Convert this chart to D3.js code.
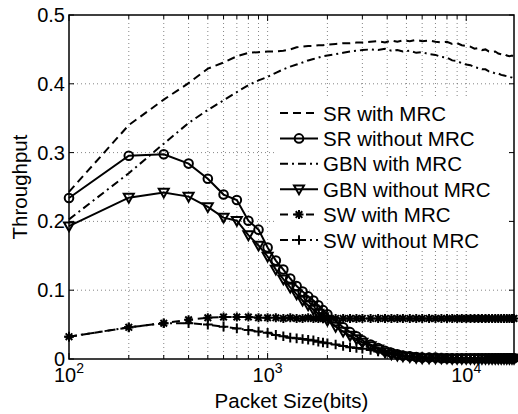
<!DOCTYPE html>
<meta charset="utf-8">
<style>
body { margin: 0; background: #fff; }
text { font-family: "Liberation Sans", Arial, sans-serif; fill: #000; }
.grid line { stroke: #666; stroke-width: 0.8px; stroke-dasharray: 1,3; }
.series { fill: none; stroke: #000; stroke-width: 2px; }
.marker { fill: none; stroke: #000; stroke-width: 2px; }
</style>
<svg width="518" height="414"></svg>
<script src="https://d3js.org/d3.v7.min.js"></script>
<script>

// DATA (packet size in bits, throughput)
var packetSize = [100, 200, 300, 400, 500, 600, 700, 800, 900, 1000,
  1100, 1200, 1300, 1400, 1500, 1600, 1700, 1800, 1900, 2000,
  2200, 2400, 2600, 2800, 3000, 3300, 3600, 3900, 4200, 4500, 4800,
  5200, 5600, 6000, 6500, 7000, 7500, 8000, 8500, 9000, 9500, 10000,
  10500, 11000, 11500, 12000, 12500, 13000, 13500, 14000, 14500, 15000,
  15500, 16000, 16500, 17000, 17400];

var srMrc = [0.243, 0.340, 0.377, 0.401, 0.422, 0.431, 0.440, 0.445, 0.446, 0.447,
  0.447, 0.448, 0.450, 0.453, 0.454, 0.455, 0.455, 0.456, 0.456, 0.457,
  0.458, 0.459, 0.459, 0.460, 0.460, 0.461, 0.462, 0.460, 0.463, 0.461, 0.463,
  0.462, 0.464, 0.462, 0.463, 0.461, 0.460, 0.461, 0.458, 0.459, 0.456, 0.455,
  0.454, 0.451, 0.452, 0.449, 0.450, 0.447, 0.446, 0.447, 0.444, 0.443,
  0.444, 0.441, 0.440, 0.441, 0.438];

var srNoMrc = [0.234, 0.2955, 0.2975, 0.284, 0.262, 0.239, 0.231, 0.201, 0.188, 0.162,
  0.143, 0.130, 0.117, 0.106, 0.098, 0.091, 0.085, 0.078, 0.071, 0.065,
  0.055, 0.046, 0.039, 0.033, 0.027, 0.021, 0.016, 0.012, 0.009, 0.007, 0.005,
  0.004, 0.003, 0.002, 0.002, 0.002, 0.001, 0.001, 0.001, 0.001, 0.001, 0.001,
  0.001, 0.001, 0.001, 0.001, 0.001, 0.001, 0.001, 0.001, 0.001, 0.001,
  0.001, 0.001, 0.001, 0.001, 0.001];

var gbnMrc = [0.203, 0.270, 0.313, 0.343, 0.362, 0.376, 0.388, 0.398, 0.405, 0.410,
  0.416, 0.421, 0.425, 0.428, 0.431, 0.434, 0.436, 0.438, 0.440, 0.441,
  0.443, 0.445, 0.447, 0.448, 0.449, 0.450, 0.449, 0.451, 0.448, 0.449, 0.447,
  0.448, 0.445, 0.446, 0.443, 0.442, 0.439, 0.438, 0.434, 0.433, 0.430, 0.428,
  0.427, 0.424, 0.423, 0.421, 0.421, 0.418, 0.417, 0.415, 0.415, 0.413,
  0.412, 0.411, 0.410, 0.409, 0.407];

var gbnNoMrc = [0.193, 0.2345, 0.242, 0.236, 0.221, 0.2055, 0.201, 0.180, 0.165, 0.149,
  0.130, 0.116, 0.104, 0.094, 0.085, 0.078, 0.072, 0.066, 0.061, 0.056,
  0.047, 0.040, 0.034, 0.029, 0.024, 0.019, 0.014, 0.010, 0.007, 0.005, 0.004,
  0.003, 0.002, 0.001, 0.001, 0.001, 0.001, 0.001, 0.0005, 0.0005, 0.0005, 0.0005,
  0.0005, 0.0005, 0.0005, 0.0005, 0.0005, 0.0005, 0.0005, 0.0005, 0.0005, 0.0005,
  0.0005, 0.0005, 0.0005, 0.0005, 0.0005];

var swMrc = [0.0325, 0.046, 0.052, 0.057, 0.060, 0.061, 0.061, 0.061, 0.060, 0.060,
  0.060, 0.059, 0.060, 0.059, 0.059, 0.060, 0.059, 0.059, 0.059, 0.059,
  0.059, 0.059, 0.059, 0.059, 0.059, 0.059, 0.059, 0.059, 0.059, 0.059, 0.059,
  0.059, 0.059, 0.059, 0.059, 0.059, 0.059, 0.059, 0.059, 0.059, 0.059, 0.059,
  0.059, 0.059, 0.059, 0.059, 0.059, 0.059, 0.059, 0.059, 0.059, 0.059,
  0.059, 0.059, 0.059, 0.059, 0.059];

var swNoMrc = [0.0325, 0.046, 0.052, 0.052, 0.050, 0.047, 0.0445, 0.042, 0.040, 0.038,
  0.035, 0.033, 0.031, 0.030, 0.029, 0.028, 0.027, 0.025, 0.024, 0.023,
  0.021, 0.019, 0.017, 0.016, 0.015, 0.013, 0.011, 0.009, 0.008, 0.006, 0.005,
  0.004, 0.003, 0.003, 0.002, 0.002, 0.002, 0.001, 0.001, 0.001, 0.001, 0.001,
  0.001, 0.001, 0.001, 0.001, 0.001, 0.001, 0.001, 0.001, 0.001, 0.001,
  0.001, 0.001, 0.001, 0.001, 0.001];

var seriesNames = ["SR with MRC", "SR without MRC", "GBN with MRC",
  "GBN without MRC", "SW with MRC", "SW without MRC"];
var yTicks = [0, 0.1, 0.2, 0.3, 0.4, 0.5];
var xMajor = [100, 1000, 10000];
var xExp = ["2", "3", "4"];
var xMax = 17400;

var series = [
  {name: seriesNames[0], values: srMrc, dash: "8,5", marker: null},
  {name: seriesNames[1], values: srNoMrc, dash: null, marker: "circle"},
  {name: seriesNames[2], values: gbnMrc, dash: "8,4,2,4", marker: null},
  {name: seriesNames[3], values: gbnNoMrc, dash: null, marker: "tri"},
  {name: seriesNames[4], values: swMrc, dash: "8,5", marker: "star"},
  {name: seriesNames[5], values: swNoMrc, dash: "8,4,2,4", marker: "plus"}
];

var svg = d3.select("svg"),
    plot = {left: 69, top: 15, right: 514, bottom: 359};

var x = d3.scaleLog().domain([100, xMax]).range([plot.left, plot.right]);
var y = d3.scaleLinear().domain([0, 0.5]).range([plot.bottom, plot.top]);

// minor ticks of the log axis
var xMinor = [];
[100, 1000, 10000].forEach(function(d) {
  for (var k = 1; k <= 9; k++) if (d * k <= xMax) xMinor.push(d * k);
});

var grid = svg.append("g").attr("class", "grid");
grid.selectAll(".gx").data(xMinor.filter(function(d) { return d > 100; }))
  .enter().append("line")
    .attr("x1", function(d) { return x(d); }).attr("x2", function(d) { return x(d); })
    .attr("y1", plot.top).attr("y2", plot.bottom);
grid.selectAll(".gy").data(yTicks.slice(1, 5))
  .enter().append("line")
    .attr("x1", plot.left).attr("x2", plot.right)
    .attr("y1", function(d) { return y(d); }).attr("y2", function(d) { return y(d); });

// tick marks (inward, both sides)
var ticks = svg.append("g").attr("stroke", "#000").attr("stroke-width", 1);
xMinor.forEach(function(d) {
  var len = xMajor.indexOf(d) >= 0 ? 6 : 4;
  ticks.append("line").attr("x1", x(d)).attr("x2", x(d)).attr("y1", plot.bottom).attr("y2", plot.bottom - len);
  ticks.append("line").attr("x1", x(d)).attr("x2", x(d)).attr("y1", plot.top).attr("y2", plot.top + len);
});
yTicks.forEach(function(d) {
  ticks.append("line").attr("x1", plot.left).attr("x2", plot.left + 5).attr("y1", y(d)).attr("y2", y(d));
  ticks.append("line").attr("x1", plot.right).attr("x2", plot.right - 5).attr("y1", y(d)).attr("y2", y(d));
});

// lines
var line = d3.line()
    .x(function(d) { return x(d[0]); })
    .y(function(d) { return y(d[1]); });

function markerPath(type) {
  if (type == "tri") return "M-5,-3.8L5,-3.8L0,5Z";
  if (type == "star") return "M-4.5,0H4.5M0,-4.5V4.5M-3.3,-3.3L3.3,3.3M-3.3,3.3L3.3,-3.3";
  if (type == "plus") return "M-4.8,0H4.8M0,-4.8V4.8";
  return null;
}

function drawMarker(g, type, cx, cy) {
  if (type == "circle") {
    g.append("circle").attr("class", "marker").attr("cx", cx).attr("cy", cy).attr("r", 4.3);
  } else {
    g.append("path").attr("class", "marker")
      .attr("transform", "translate(" + cx + "," + cy + ")")
      .attr("d", markerPath(type));
  }
}

series.forEach(function(s) {
  var pts = packetSize.map(function(p, i) { return [p, s.values[i]]; });
  var g = svg.append("g");
  g.append("path")
    .attr("class", "series")
    .attr("d", line(pts))
    .attr("stroke-dasharray", s.dash);
  if (s.marker) {
    pts.forEach(function(p) { drawMarker(g, s.marker, x(p[0]), y(p[1])); });
  }
});

// box
svg.append("rect")
  .attr("x", plot.left).attr("y", plot.top)
  .attr("width", plot.right - plot.left).attr("height", plot.bottom - plot.top)
  .attr("fill", "none").attr("stroke", "#000").attr("stroke-width", 1.5);

// tick labels
svg.selectAll(".ylab").data(yTicks)
  .enter().append("text")
    .attr("x", plot.left - 4)
    .attr("y", function(d) { return y(d) + 7; })
    .attr("text-anchor", "end")
    .style("font-size", "20px")
    .text(function(d) { return d == 0 ? "0" : d3.format(".1f")(d); });

xMajor.forEach(function(d, i) {
  var t = svg.append("text")
    .attr("x", x(d))
    .attr("y", 382)
    .attr("text-anchor", "middle")
    .style("font-size", "20px");
  t.append("tspan").text("10");
  t.append("tspan").attr("dy", -9).style("font-size", "14px").text(xExp[i]);
});

svg.append("text")
  .attr("x", (plot.left + plot.right) / 2)
  .attr("y", 408)
  .attr("text-anchor", "middle")
  .style("font-size", "20.5px")
  .text("Packet Size(bits)");

svg.append("text")
  .attr("transform", "translate(27," + (plot.top + plot.bottom) / 2 + ") rotate(-90)")
  .attr("text-anchor", "middle")
  .style("font-size", "20.5px")
  .text("Throughput");

// legend
var legend = svg.append("g");
legend.append("rect")
  .attr("x", 276).attr("y", 98).attr("width", 230).attr("height", 152)
  .attr("fill", "#fff");

series.forEach(function(s, i) {
  var cy = 113 + i * 25.4;
  var g = legend.append("g");
  g.append("line")
    .attr("class", "series")
    .attr("x1", 280).attr("x2", 318)
    .attr("y1", cy).attr("y2", cy)
    .attr("stroke-dasharray", s.dash);
  if (s.marker) drawMarker(g, s.marker, 299, cy);
  g.append("text")
    .attr("x", 323)
    .attr("y", cy + 7.5)
    .style("font-size", "20.5px")
    .text(s.name);
});

</script>
